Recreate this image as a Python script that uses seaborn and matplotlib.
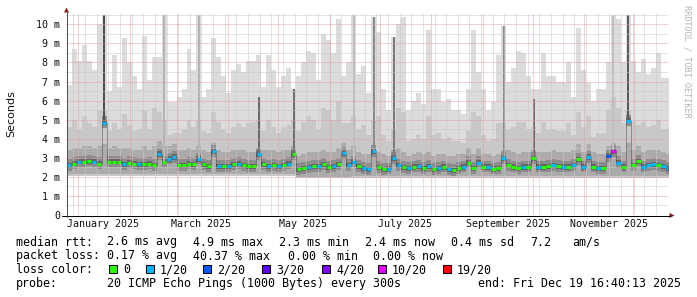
import numpy as np
import pandas as pd
import matplotlib
matplotlib.use("Agg")
import matplotlib.pyplot as plt
import matplotlib.dates as mdates
from matplotlib.patches import Rectangle, Polygon
import seaborn as sns

# ---------------- data ----------------
col_start = "2024-12-25"      # first 3-day column
col_days = 3

rtt_max = [6.8, 8.7, 8.1, 8.9, 8.1, 7.6, 10.0, 10.5, 6.5, 8.4,
           6.7, 9.3, 8.0, 7.3, 6.6, 9.4, 7.1, 8.3, 8.3, 10.5,
           5.9, 5.9, 6.2, 6.6, 8.7, 7.6, 10.5, 6.2, 6.6, 9.3,
           8.3, 7.3, 6.4, 7.6, 7.9, 7.5, 8.1, 8.1, 8.4, 6.7,
           8.4, 7.6, 6.7, 7.3, 7.7, 6.6, 7.3, 8.0, 8.6, 8.5,
           7.1, 9.5, 9.2, 8.5, 10.3, 7.3, 8.0, 10.5, 7.4, 7.8,
           6.4, 10.4, 9.6, 6.6, 5.5, 9.35, 10.0, 10.4, 5.5, 6.0,
           6.4, 5.8, 9.7, 6.6, 6.6, 5.9, 6.1, 5.5, 5.5, 5.3,
           6.6, 9.7, 7.5, 6.6, 5.5, 5.9, 8.4, 9.9, 7.0, 7.7,
           8.6, 8.5, 7.3, 6.6, 6.6, 8.5, 7.3, 7.3, 7.0, 7.0,
           8.0, 6.2, 9.8, 7.6, 6.9, 6.0, 6.6, 6.6, 8.0, 10.5,
           10.3, 8.0, 10.5, 8.1, 7.5, 8.2, 7.4, 7.7, 8.5, 7.2, 7.2]

rtt_hi = [4.6, 5.0, 4.5, 5.2, 4.8, 4.6, 5.5, 5.5, 4.4, 4.8,
          4.5, 5.3, 4.7, 4.4, 4.5, 5.5, 4.5, 5.6, 5.4, 5.0,
          4.2, 4.3, 4.3, 4.5, 5.0, 4.6, 5.0, 4.4, 4.3, 5.4,
          4.9, 4.5, 4.3, 4.6, 4.8, 4.6, 4.8, 4.9, 5.0, 4.4,
          5.0, 4.6, 4.3, 4.6, 4.7, 5.0, 4.4, 4.9, 5.2, 5.0,
          4.5, 5.6, 5.5, 5.0, 6.0, 4.8, 4.8, 5.2, 4.5, 4.7,
          4.2, 5.0, 5.2, 4.2, 3.9, 4.5, 5.6, 5.4, 3.9, 4.0,
          4.2, 4.0, 5.2, 4.2, 4.3, 4.0, 4.1, 3.9, 3.9, 3.8,
          4.4, 5.4, 5.2, 4.2, 3.9, 4.0, 4.8, 4.8, 4.5, 4.6,
          4.9, 4.9, 4.5, 4.6, 4.3, 4.9, 4.5, 4.5, 4.4, 4.4,
          4.8, 4.2, 5.4, 4.6, 5.2, 4.1, 4.3, 4.3, 5.5, 6.2,
          5.6, 4.8, 5.5, 4.9, 4.7, 4.9, 4.6, 4.7, 5.0, 4.5, 4.5]

rtt_q3 = [3.4, 3.5, 3.5, 3.6, 3.6, 3.5, 3.6, 3.7, 3.5, 3.6,
          3.5, 3.5, 3.5, 3.4, 3.4, 3.6, 3.4, 3.6, 3.9, 3.6,
          3.6, 3.7, 3.4, 3.4, 3.5, 3.4, 3.6, 3.4, 3.3, 3.8,
          3.4, 3.3, 3.3, 3.4, 3.4, 3.4, 3.3, 3.3, 3.5, 3.4,
          3.4, 3.4, 3.3, 3.4, 3.4, 3.6, 3.1, 3.2, 3.3, 3.3,
          3.3, 3.4, 3.3, 3.3, 3.5, 3.8, 3.4, 3.6, 3.3, 3.2,
          3.2, 3.5, 3.3, 3.2, 3.1, 3.4, 3.5, 3.3, 3.1, 3.2,
          3.3, 3.2, 3.3, 3.1, 3.2, 3.2, 3.1, 3.1, 3.2, 3.2,
          3.5, 3.2, 3.5, 3.2, 3.2, 3.1, 3.2, 3.4, 3.4, 3.3,
          3.2, 3.3, 3.3, 3.4, 3.3, 3.3, 3.3, 3.4, 3.3, 3.3,
          3.3, 3.4, 3.7, 3.3, 3.7, 3.3, 3.2, 3.2, 3.6, 3.8,
          3.6, 3.3, 3.8, 3.4, 3.6, 3.3, 3.4, 3.4, 3.4, 3.3, 3.2]

rtt_med = [2.62, 2.70, 2.80, 2.80, 2.85, 2.80, 2.70, 4.85, 2.80, 2.80,
           2.80, 2.65, 2.75, 2.70, 2.65, 2.65, 2.70, 2.62, 3.20, 2.80,
           2.95, 3.05, 2.62, 2.62, 2.70, 2.65, 2.95, 2.65, 2.57, 3.35,
           2.57, 2.57, 2.57, 2.65, 2.70, 2.62, 2.55, 2.55, 3.20, 2.65,
           2.55, 2.62, 2.57, 2.62, 2.70, 3.20, 2.40, 2.45, 2.50, 2.55,
           2.57, 2.65, 2.50, 2.55, 2.65, 3.25, 2.62, 2.80, 2.55, 2.45,
           2.40, 3.35, 2.50, 2.40, 2.43, 3.00, 2.62, 2.50, 2.45, 2.53,
           2.57, 2.45, 2.57, 2.40, 2.45, 2.53, 2.40, 2.36, 2.45, 2.53,
           2.75, 2.45, 2.75, 2.53, 2.53, 2.43, 2.45, 2.97, 2.62, 2.53,
           2.45, 2.53, 2.53, 2.97, 2.53, 2.53, 2.57, 2.62, 2.57, 2.53,
           2.53, 2.62, 2.92, 2.53, 3.05, 2.53, 2.45, 2.45, 3.10, 3.35,
           2.75, 2.53, 4.95, 2.62, 2.85, 2.53, 2.62, 2.67, 2.62, 2.57, 2.45]

rtt_min = [2.05, 2.05, 2.05, 2.05, 2.05, 2.05, 2.05, 2.05, 2.05, 2.05,
           2.05, 2.05, 2.05, 2.05, 2.05, 2.05, 2.05, 2.05, 2.05, 2.05,
           2.05, 2.05, 2.05, 2.05, 2.05, 2.05, 2.05, 2.05, 2.05, 2.05,
           2.05, 2.05, 2.05, 2.05, 2.05, 2.05, 2.05, 2.05, 2.05, 2.05,
           2.05, 2.05, 2.05, 2.05, 2.05, 2.05, 1.92, 1.92, 1.92, 1.92,
           1.92, 1.92, 1.92, 1.92, 1.92, 1.92, 1.92, 1.95, 1.95, 1.95,
           1.95, 1.95, 1.95, 1.95, 1.95, 1.95, 1.95, 1.95, 1.95, 1.95,
           1.95, 1.95, 1.95, 1.95, 1.95, 1.95, 1.95, 1.95, 1.95, 1.95,
           1.95, 1.95, 1.95, 1.95, 1.95, 1.95, 1.95, 1.95, 1.95, 1.95,
           1.95, 1.95, 1.95, 1.95, 1.95, 1.95, 1.95, 1.95, 1.95, 1.95,
           1.95, 1.95, 1.95, 1.95, 1.95, 1.95, 1.95, 1.95, 1.95, 1.95,
           1.95, 1.95, 1.95, 1.95, 1.95, 1.95, 1.95, 1.95, 1.95, 1.95, 1.95]

loss = [1, 0, 1, 0, 0, 1, 0, 1, 0, 0,
        0, 1, 0, 0, 1, 0, 0, 0, 1, 0,
        1, 1, 0, 0, 0, 0, 1, 0, 0, 1,
        1, 0, 1, 0, 1, 0, 0, 0, 1, 0,
        1, 0, 1, 0, 1, 0, 0, 0, 1, 0,
        1, 0, 0, 1, 0, 1, 1, 1, 0, 1,
        1, 1, 0, 0, 1, 1, 1, 0, 1, 0,
        1, 0, 1, 0, 1, 0, 1, 0, 0, 1,
        0, 0, 1, 0, 1, 0, 0, 1, 0, 0,
        0, 1, 0, 0, 1, 0, 0, 1, 0, 1,
        0, 1, 0, 1, 1, 0, 1, 0, 2, 10,
        1, 0, 1, 0, 0, 1, 1, 1, 0, 1, 1]

# single-day smoke spikes: column, top (m), shade
spike_idx = [7, 112, 38, 45, 61, 65, 87, 93, 19, 26, 57, 109]
spike_top = [10.5, 10.5, 6.2, 6.6, 10.4, 9.35, 9.9, 6.1, 10.5, 10.5, 10.5, 10.5]
spike_shade = ["#505050", "#5a5a5a", "#6a6a6a", "#707070", "#8a8a8a", "#7a7a7a",
               "#8a8a8a", "#6a6a6a", "#b4b4b4", "#b4b4b4", "#bcbcbc", "#c0c0c0"]

loss_levels = [0, 1, 2, 3, 4, 10, 19]
loss_colors = ["#26ff00", "#00b8ff", "#0059ff", "#5e00ff", "#7e00ff", "#dd00ff", "#ff0000"]
loss_labels = ["0", "1/20", "2/20", "3/20", "4/20", "10/20", "19/20"]

y_tick_values = [0, 1, 2, 3, 4, 5, 6, 7, 8, 9, 10]
y_tick_labels = ["0", "1 m", "2 m", "3 m", "4 m", "5 m", "6 m", "7 m", "8 m", "9 m", "10 m"]
x_label_dates = ["2025-01-16", "2025-03-16", "2025-05-16", "2025-07-16", "2025-09-16", "2025-11-16"]
x_label_text = ["January 2025", "March 2025", "May 2025", "July 2025", "September 2025", "November 2025"]

rtt_items = ["median rtt:", "2.6 ms avg", "4.9 ms max", "2.3 ms min", "2.4 ms now",
             "0.4 ms sd", "7.2", "am/s"]
loss_items = ["packet loss:", "0.17 % avg", "40.37 % max", "0.00 % min", "0.00 % now"]
probe_items = ["probe:", "20 ICMP Echo Pings (1000 Bytes) every 300s", "end: Fri Dec 19 16:40:13 2025"]
color_title = "loss color:"
y_title = "Seconds"
watermark = "RRDTOOL / TOBI OETIKER"

# ---------------- figure ----------------
sns.set_theme(style="white")
plt.rcParams["font.family"] = ["DejaVu Sans"]
W, H = 697, 297
fig = plt.figure(figsize=(W / 100, H / 100), dpi=100)
fig.patch.set_facecolor("white")

def fx(px):
    return px / W

def fy(py):
    return 1 - py / H

PX_L, PX_R, PX_B, PX_T = 66, 668, 215, 13
ax = fig.add_axes([fx(PX_L), fy(PX_B), (PX_R - PX_L) / W, (PX_B - PX_T) / H])
ax.set_facecolor("white")

px_per_day = (634.3 - 78.3) / 334.0
jan1 = pd.Timestamp("2025-01-01")
xmin = jan1 - pd.Timedelta(days=(78.3 - PX_L) / px_per_day)
xmax = xmin + pd.Timedelta(days=(PX_R - PX_L) / px_per_day)
YTOP = (PX_B - PX_T) / ((215 - 24.3) / 10.0)

n = len(rtt_med)
starts = pd.date_range(col_start, periods=n, freq=f"{col_days}D")
edges = starts.append(pd.DatetimeIndex([starts[-1] + pd.Timedelta(days=col_days)]))
xe = mdates.date2num(edges)

def ext(a):
    a = np.asarray(a, dtype=float)
    return np.r_[a, a[-1]]

mx, hi, q3, md, mn = map(ext, (rtt_max, rtt_hi, rtt_q3, rtt_med, rtt_min))

def band(lo, up, color, z):
    ax.fill_between(xe, lo, up, step="post", color=color, lw=0, zorder=z)

band(mn, mx, "#dcdcdc", 1)
band(mn, hi, "#c8c8c8", 1.1)
band(mn + 0.08, q3, "#ababab", 1.2)
band(md - 0.3, md + 0.32, "#8c8c8c", 1.3)
band(md - 0.15, md + 0.13, "#666666", 1.4)

# thin single-day spikes
for i, top, shade in zip(spike_idx, spike_top, spike_shade):
    c = mdates.date2num(starts[i]) + col_days / 2
    ax.add_patch(Rectangle((c - 0.6, rtt_med[i] - 0.1), 1.2, top - rtt_med[i] + 0.1,
                           color=shade, lw=0, zorder=1.5))

# grid (drawn over the smoke like rrdtool)
for v in np.arange(0.5, 10.6, 1.0):
    ax.axhline(v, color="#c9c9c9", lw=0.72, ls=(0, (1, 1)), zorder=2)
for v in range(1, 11):
    ax.axhline(v, color="#e6a2a2", lw=0.72, ls=(0, (1, 1)), zorder=2.1)
for d in pd.date_range("2024-12-29", "2025-12-21", freq="7D"):
    ax.axvline(mdates.date2num(d), color="#c9c9c9", lw=0.72, ls=(0, (1, 1)), zorder=2)
for d in pd.date_range("2025-01-01", "2025-12-01", freq="MS"):
    ax.axvline(mdates.date2num(d), color="#e6a2a2", lw=0.72, ls=(0, (1, 1)), zorder=2.1)

# median coloured by loss
med_df = pd.DataFrame({"t": edges, "median": md})
sns.lineplot(data=med_df, x="t", y="median", ax=ax, color="#3a3a3a", lw=0.5,
             drawstyle="steps-post", zorder=2.5, estimator=None, alpha=0.6)
cmap = dict(zip(loss_levels, loss_colors))
for i in range(n):
    ax.hlines(rtt_med[i], xe[i] + 0.2, xe[i + 1] - 0.2, color=cmap[loss[i]], lw=2.2, zorder=4)

ax.set_xlim(mdates.date2num(xmin), mdates.date2num(xmax))
ax.set_ylim(0, YTOP)
for s in ax.spines.values():
    s.set_visible(False)
ax.grid(False)

mono = "DejaVu Sans Mono"
ax.set_yticks(y_tick_values)
ax.set_yticklabels(y_tick_labels, family=mono, fontsize=7.2, color="#111111")
ax.set_xticks(mdates.date2num(pd.to_datetime(x_label_dates)))
ax.set_xticklabels(x_label_text, family=mono, fontsize=7.2, color="#111111")
ax.tick_params(axis="y", length=0, pad=4.0)
ax.tick_params(axis="x", length=0, pad=3.2)
ax.set_xlabel("")
ax.set_ylabel("")

# axes lines and arrows
fig.add_artist(plt.Line2D([fx(62), fx(670)], [fy(215.5), fy(215.5)], color="black", lw=0.75))
fig.add_artist(plt.Line2D([fx(66.5), fx(66.5)], [fy(217), fy(11)], color="#555555", lw=0.75))
fig.add_artist(Polygon([[fx(64), fy(12.5)], [fx(69), fy(12.5)], [fx(66.5), fy(7.5)]],
                       closed=True, transform=fig.transFigure, color="#8b1c1c", lw=0))
fig.add_artist(Polygon([[fx(669.5), fy(213)], [fx(669.5), fy(218)], [fx(674.5), fy(215.5)]],
                       closed=True, transform=fig.transFigure, color="#8b1c1c", lw=0))

# titles
fig.text(fx(10.8), fy(113.5), y_title, rotation=90, ha="center", va="center",
         fontsize=8, family="DejaVu Sans", color="#111111")
fig.text(fx(687.5), fy(5), watermark, rotation=270, ha="center", va="top",
         fontsize=6.1, family=mono, color="#b4b4b4")

# legend block
fs = 8.4
def ltext(px, py, s):
    fig.text(fx(px), fy(py), s, family=mono, fontsize=fs, va="baseline", color="#000000")

for px, s in zip([16, 107, 193, 279, 365, 451, 530, 572], rtt_items):
    ltext(px, 245.5, s)
for px, s in zip([16, 107, 193, 288, 373], loss_items):
    ltext(px, 259.5, s)
ltext(16, 273.3, color_title)
for px, s in zip([16, 107, 478], probe_items):
    ltext(px, 287.3, s)

sq_x = [108.5, 146, 203, 262, 322, 378, 443]
lab_x = [123, 160, 217, 276, 336, 392, 457]
for sx, lx, col, lab in zip(sq_x, lab_x, loss_colors, loss_labels):
    fig.add_artist(Rectangle((fx(sx), fy(273.2)), 8 / W, 8 / H, transform=fig.transFigure,
                             facecolor=col, edgecolor="black", lw=0.75))
    ltext(lx, 273.3, lab)

fig.savefig("out.png", dpi=100, facecolor="white")
